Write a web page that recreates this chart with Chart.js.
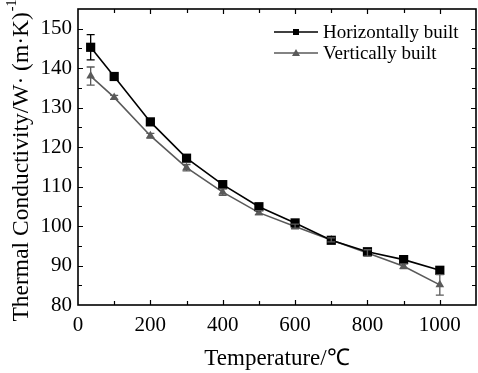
<!DOCTYPE html>
<html>
<head>
<meta charset="utf-8">
<script src="https://cdn.jsdelivr.net/npm/chart.js@4.4.0/dist/chart.umd.min.js"></script>
<style>
  body { margin: 0; background: #fff; }
  #wrap { width: 478px; height: 373px; }
</style>
</head>
<body>
<div id="wrap"><canvas id="grafico" width="478" height="373"></canvas></div>
<script>
// dados
const temperaturas = [35, 100, 200, 300, 400, 500, 600, 700, 800, 900, 1000];
const horizontal = [145.3, 137.9, 126.4, 117.2, 110.5, 104.9, 100.8, 96.4, 93.5, 91.5, 88.8];
const horizontalErro = [3.2, 0.6, 0.5, 0.4, 0.5, 0.4, 0.4, 0.5, 0.8, 0.5, 0.8];
const vertical = [138.0, 132.6, 122.9, 114.8, 108.6, 103.4, 99.9, 96.5, 93.2, 89.8, 85.1];
const verticalErro = [2.3, 0.5, 0.6, 0.8, 0.8, 0.5, 0.6, 0.5, 0.8, 0.6, 2.6];
const rotulos = ["Horizontally built", "Vertically built"];
const tituloX = "Temperature/\u2103";
const tituloY = "Thermal Conductivity/W\u00b7 (m\u00b7K)";
const tituloYExp = "-1";

const fonte = "'Liberation Serif', 'Times New Roman', serif";

function pontos(ys) {
    return temperaturas.map((t, i) => ({ x: t, y: ys[i] }));
}

const erros = [horizontalErro, verticalErro];

function semPadding(s) {
    s.paddingTop = 0; s.paddingBottom = 0;
    s.paddingLeft = 0; s.paddingRight = 0;
}

const desenhos = {
    id: "desenhos",
    afterDatasetsDraw(chart) {
        const ctx = chart.ctx;
        const xs = chart.scales.x, ys = chart.scales.y;
        ctx.save();
        chart.data.datasets.forEach((ds, k) => {
            ctx.strokeStyle = ds.borderColor;
            ctx.lineWidth = 1.3;
            ds.data.forEach((p, i) => {
                const e = erros[k][i];
                const px = xs.getPixelForValue(p.x);
                const y1 = ys.getPixelForValue(p.y + e);
                const y2 = ys.getPixelForValue(p.y - e);
                ctx.beginPath();
                ctx.moveTo(px, y1); ctx.lineTo(px, y2);
                ctx.moveTo(px - 4, y1); ctx.lineTo(px + 4, y1);
                ctx.moveTo(px - 4, y2); ctx.lineTo(px + 4, y2);
                ctx.stroke();
            });
        });
        ctx.restore();
    },
    afterDraw(chart) {
        const ctx = chart.ctx;
        const a = chart.chartArea;
        const xs = chart.scales.x, ys = chart.scales.y;
        ctx.save();
        ctx.strokeStyle = "#000";
        ctx.lineWidth = 1.6;
        ctx.strokeRect(a.left, a.top, a.right - a.left, a.bottom - a.top);

        // ticks para dentro
        ctx.lineWidth = 1.2;
        ctx.beginPath();
        for (let v = 100; v < 1100; v += 100) {
            const px = Math.round(xs.getPixelForValue(v)) + 0.5;
            const l = v % 200 === 0 ? 5 : 4;
            ctx.moveTo(px, a.bottom); ctx.lineTo(px, a.bottom - l);
            ctx.moveTo(px, a.top); ctx.lineTo(px, a.top + l);
        }
        for (let v = 85; v < 155; v += 5) {
            const py = Math.round(ys.getPixelForValue(v)) + 0.5;
            const l = v % 10 === 0 ? 5 : 4;
            ctx.moveTo(a.left, py); ctx.lineTo(a.left + l, py);
            ctx.moveTo(a.right, py); ctx.lineTo(a.right - l, py);
        }
        ctx.stroke();

        // legenda
        ctx.font = "19px " + fonte;
        ctx.textBaseline = "middle";
        ctx.textAlign = "left";
        chart.data.datasets.forEach((ds, k) => {
            const y = 32 + k * 21;
            ctx.strokeStyle = ds.borderColor;
            ctx.fillStyle = ds.backgroundColor;
            ctx.lineWidth = 1.5;
            ctx.beginPath();
            ctx.moveTo(274, y); ctx.lineTo(318, y);
            ctx.stroke();
            ctx.beginPath();
            if (k === 0) {
                ctx.rect(293, y - 3, 6, 6);
            } else {
                ctx.moveTo(296, y - 4); ctx.lineTo(300, y + 3); ctx.lineTo(292, y + 3); ctx.closePath();
            }
            ctx.fill();
            ctx.fillStyle = "#000";
            ctx.fillText(ds.label, 323, y + 1);
        });

        // titulos
        ctx.fillStyle = "#000";
        ctx.font = "23px " + fonte;
        ctx.textAlign = "center";
        ctx.textBaseline = "middle";
        ctx.fillText(tituloX, (a.left + a.right) / 2, 359);

        ctx.translate(22, 161);
        ctx.rotate(-Math.PI / 2);
        ctx.font = "23.5px " + fonte;
        const w1 = ctx.measureText(tituloY).width;
        ctx.font = "14px " + fonte;
        const w2 = ctx.measureText(tituloYExp).width;
        const x0 = -(w1 + w2) / 2;
        ctx.textAlign = "left";
        ctx.font = "23.5px " + fonte;
        ctx.fillText(tituloY, x0, 0);
        ctx.font = "14px " + fonte;
        ctx.fillText(tituloYExp, x0 + w1 + 1, -10);
        ctx.restore();
    }
};

new Chart(document.getElementById("grafico"), {
    type: "line",
    data: {
        datasets: [{
            label: rotulos[0],
            data: pontos(horizontal),
            borderColor: "#000",
            backgroundColor: "#000",
            borderWidth: 1.6,
            pointStyle: "rect",
            pointRadius: 6.5,
            pointBorderWidth: 0,
            tension: 0
        }, {
            label: rotulos[1],
            data: pontos(vertical),
            borderColor: "#5a5a5a",
            backgroundColor: "#5a5a5a",
            borderWidth: 1.6,
            pointStyle: "triangle",
            pointRadius: 5,
            pointBorderWidth: 0,
            tension: 0
        }]
    },
    options: {
        responsive: false,
        animation: false,
        layout: { autoPadding: false, padding: { top: 9, right: 2, left: 0, bottom: 0 } },
        plugins: { legend: { display: false }, tooltip: { enabled: false } },
        scales: {
            x: {
                type: "linear",
                min: 0, max: 1100,
                afterFit: s => { s.height = 68; semPadding(s); },
                grid: { display: false, drawTicks: false },
                border: { display: false },
                ticks: {
                    stepSize: 200, includeBounds: false, padding: 8,
                    color: "#000", font: { family: fonte, size: 21 },
                    callback: v => String(v)
                }
            },
            y: {
                min: 80, max: 155,
                afterFit: s => { s.width = 78; semPadding(s); },
                grid: { display: false, drawTicks: false },
                border: { display: false },
                ticks: {
                    stepSize: 10, includeBounds: false, padding: 6,
                    color: "#000", font: { family: fonte, size: 21 },
                    callback: v => String(v)
                }
            }
        }
    },
    plugins: [desenhos]
});
</script>
</body>
</html>
